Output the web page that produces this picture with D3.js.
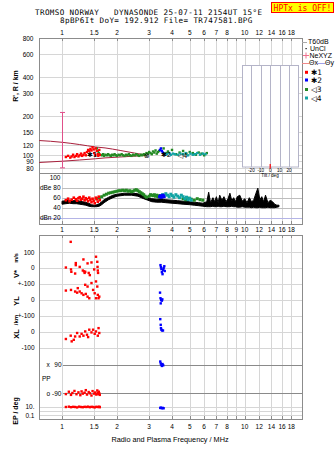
<!DOCTYPE html>
<html><head><meta charset="utf-8">
<script src="https://cdn.jsdelivr.net/npm/d3@7"></script>
<style>body{margin:0;background:#fff}svg{display:block}</style>
</head><body><svg id="c" width="335" height="451"></svg>
<script>
// ---- frequency axis ----
const freqTicks = [1, 1.5, 2, 3, 4, 5, 6, 7, 8, 9, 10, 12, 14, 16, 18];
const freqLabelsOuter = [1, 1.5, 2, 3, 4, 5, 6, 7, 8, 10, 12, 14, 16, 18];
const heightTicks = [800, 600, 400, 300, 200, 150, 120, 100, 90, 80];
const dbTicks = [80, 60, 40];
const tiltTicks = [-20, -10, 0, 10, 20];

// ---- virtual height echoes [MHz, km] ----
const h1 = [[1.05,97],[1.08,99],[1.11,96],[1.13,98],[1.15,101],[1.17,97],[1.19,99],[1.21,102],[1.23,98],[1.25,100],[1.27,103],[1.29,99],[1.31,101],[1.33,104],[1.35,100],[1.37,106],[1.39,110],[1.41,108],[1.43,112],[1.45,109],[1.47,115],[1.49,111],[1.50,104],[1.52,100],[1.53,113],[1.55,108],[1.57,102],[1.58,99],[1.60,110],[1.61,101]];
const h2 = [[3.44,110],[3.48,113],[3.52,108],[3.56,105]];
const h3 = [[1.55,113],[1.57,108],[1.59,104],[1.62,101],[1.65,100],[1.68,102],[1.70,99],[1.73,101],[1.76,100],[1.79,102],[1.82,100],[1.85,99],[1.88,101],[1.91,100],[1.94,102],[1.97,100],[2.00,99],[2.04,101],[2.08,100],[2.12,102],[2.16,100],[2.20,99],[2.24,101],[2.28,100],[2.32,102],[2.36,100],[2.40,99],[2.45,101],[2.50,100],[2.55,102],[2.60,100],[2.65,99],[2.70,101],[2.75,100],[2.80,102],[2.85,101],[2.90,104],[2.95,103],[3.00,106],[3.05,104],[3.10,102],[3.15,107],[3.20,105],[3.25,109],[3.30,103],[3.35,106],[3.40,108],[3.60,113],[3.70,104],[3.80,107],[4.00,110],[4.20,102],[4.40,105],[4.60,108],[4.80,103],[5.00,106],[5.20,104],[5.40,101],[5.60,105],[5.80,103],[6.00,100],[6.20,104]];
const h4 = [[3.65,103],[3.75,102],[3.85,104],[3.95,101],[4.05,103],[4.15,102],[4.30,101],[4.45,103],[4.60,102],[4.75,104],[4.90,100],[5.05,103],[5.20,101],[5.35,102],[5.50,104],[5.70,101],[5.90,103],[6.10,102]];
// model envelope curves
const envUpper = [[0.75,130],[1.0,126],[1.25,121],[1.52,116],[1.72,114],[2.08,109],[2.5,104],[2.85,100.5]];
const envLower = [[0.75,88],[1.0,90],[1.25,92],[1.52,94],[1.72,95.5],[2.08,97],[2.5,98.5],[2.85,100]];
const errBar = {f: 1.0, lo: 80, hi: 214};

// ---- amplitude [MHz, dB] ----
const noiseBand = [[1.00,47,53],[1.05,48,54],[1.10,49,55],[1.15,48,54],[1.20,48,55],[1.25,47,53],[1.30,46,52],[1.35,45,51],[1.40,43,49],[1.45,42,46],[1.50,42,45],[1.55,42,46],[1.60,43,48],[1.65,46,52],[1.70,50,56],[1.80,56,61],[1.90,60,65],[2.00,63,67],[2.10,64,68],[2.20,65,69],[2.40,65,69],[2.60,63,68],[2.80,58,64],[2.95,55,60],[3.10,52,58],[3.30,51,57],[3.50,51,58],[3.70,50,56],[4.00,49,55],[4.30,48,54],[4.60,47,53],[5.00,46,52],[5.30,45,51],[5.60,44,50],[5.90,43,49],[6.20,42,52],[6.35,42,71],[6.50,42,50],[6.70,43,60],[6.85,42,52],[7.00,42,62],[7.15,43,50],[7.30,42,65],[7.50,42,55],[7.70,43,62],[7.90,42,52],[8.10,42,58],[8.30,42,69],[8.50,43,54],[8.70,42,60],[8.90,42,52],[9.10,41,62],[9.40,41,65],[9.70,42,53],[10.0,41,58],[10.3,41,50],[10.6,41,60],[10.9,40,52],[11.2,41,55],[11.5,40,68],[11.8,40,79],[12.1,41,56],[12.4,40,62],[12.7,40,52],[13.0,40,65],[13.4,41,50],[13.8,40,55],[14.2,40,52],[14.6,40,47],[15.0,41,45],[15.4,42,45]];
const a1 = [[1.05,55],[1.08,58],[1.10,53],[1.13,56],[1.16,60],[1.19,57],[1.21,54],[1.23,59],[1.25,61],[1.27,56],[1.29,58],[1.31,62],[1.33,55],[1.35,59],[1.37,57],[1.39,53],[1.41,60],[1.43,56],[1.45,51],[1.47,58],[1.49,54],[1.51,49],[1.53,60],[1.55,57],[1.57,52],[1.59,62],[1.61,55]];
const a2 = [[3.42,62],[3.46,64],[3.50,61],[3.54,63],[3.58,65],[3.62,62]];
const a3 = [[1.55,58],[1.60,60],[1.65,62],[1.70,65],[1.75,67],[1.80,69],[1.85,70],[1.90,71],[1.95,72],[2.00,73],[2.05,74],[2.10,74],[2.15,75],[2.20,74],[2.25,75],[2.30,73],[2.35,74],[2.40,72],[2.45,73],[2.50,75],[2.55,76],[2.60,74],[2.65,72],[2.70,70],[2.75,68],[2.80,66],[2.85,63],[2.90,61],[3.00,63],[3.05,66],[3.10,65],[3.15,64],[3.20,66],[3.25,63],[3.30,65],[3.35,62],[3.40,64],[4.60,58],[4.75,56],[4.90,59],[5.10,57],[5.30,55],[5.50,58],[5.70,56],[5.90,55]];
const a4 = [[3.55,66],[3.62,63],[3.70,68],[3.78,65],[3.86,62],[3.94,67],[4.02,64],[4.10,61],[4.20,66],[4.30,63],[4.40,60],[4.50,65],[4.60,62],[4.70,58],[4.80,61],[4.90,56],[5.00,59],[5.10,55]];

// ---- echo parameters ----
const v1 = [[1.05,4],[1.116,166],[1.12,-8],[1.125,-23],[1.19,19],[1.19,32],[1.25,8],[1.18,-34],[1.31,55],[1.38,30],[1.34,-23],[1.30,-15],[1.32,-20],[1.33,-30],[1.45,36],[1.535,72],[1.56,40],[1.565,8],[1.57,-15],[1.575,-30],[1.50,-8],[1.40,-30],[1.42,-44]];
const v2 = [[3.46,19],[3.48,6],[3.50,-6],[3.52,-25],[3.55,-38],[3.58,-12],[3.60,0],[3.63,12],[3.65,-18]];
const yl1 = [[1.05,59],[1.12,63],[1.18,53],[1.21,46],[1.25,53],[1.28,42],[1.31,32],[1.35,38],[1.38,21],[1.41,11],[1.34,95],[1.38,84],[1.45,106],[1.51,42],[1.535,116],[1.56,84],[1.57,32],[1.585,11],[1.60,21],[1.535,11],[1.48,63],[1.22,74]];
const yl2 = [[3.44,46],[3.46,11],[3.49,0],[3.47,-21],[3.52,-4],[3.54,4]];
const xl1 = [[1.05,-46],[1.116,-25],[1.13,-61],[1.18,-30],[1.21,-8],[1.25,-30],[1.28,-13],[1.34,2],[1.37,-19],[1.41,13],[1.45,-4],[1.48,13],[1.51,-13],[1.535,2],[1.57,-25],[1.585,23],[1.60,-8],[1.16,-51],[1.31,-25],[1.39,-34]];
const xl2 = [[3.45,80],[3.47,44],[3.48,23],[3.50,13],[3.53,8],[3.57,8]];
const pp1 = [[1.05,-95],[1.09,-80],[1.12,-100],[1.14,-88],[1.17,-75],[1.20,-96],[1.23,-84],[1.26,-102],[1.28,-78],[1.30,-92],[1.33,-86],[1.35,-70],[1.37,-98],[1.40,-82],[1.42,-90],[1.45,-104],[1.47,-76],[1.50,-92],[1.52,-85],[1.54,-98],[1.56,-72],[1.57,-88],[1.58,-95],[1.59,-80],[1.60,-90],[1.61,-100]];
const pp2 = [[3.45,112],[3.47,100],[3.50,92],[3.52,84],[3.55,96],[3.58,88]];
const ep1 = [[1.05,10],[1.09,12],[1.12,9],[1.15,11],[1.18,10],[1.21,8],[1.24,12],[1.27,10],[1.30,9],[1.33,11],[1.36,10],[1.39,12],[1.42,9],[1.45,11],[1.48,10],[1.51,8],[1.54,11],[1.57,10],[1.60,12],[1.61,9]];
const ep2 = [[3.45,6],[3.48,7],[3.52,5],[3.56,6],[3.60,5]];

const RED = "#ff0000", BLUE = "#0000ff", GREEN = "#248a24", TEAL = "#12a4a4";
const GRID = "#d6d6d6", FRAME = "#8c8c8c";

const svg = d3.select("#c");
const L = 39, R = 302;
const x = d3.scaleLog().domain([1, 16]).range([62, 282]);
const yH = d3.scaleLog().domain([100, 800]).range([155.3, 38.2]);
const yDb = d3.scaleLinear().domain([20, 100]).range([217.7, 177.7]);
const yV = d3.scaleLinear().domain([-100, 100]).range([284, 252.3]);
const yYL = d3.scaleLinear().domain([-100, 100]).range([316, 284]);
const yXL = d3.scaleLinear().domain([-100, 100]).range([347.5, 316]);
const yPP = d3.scaleLinear().domain([-90, 90]).range([393.3, 365]);
const yEP = d3.scaleLog().domain([0.1, 10]).range([415.3, 407]);
const xT = d3.scaleLinear().domain([-30, 30]).range([242, 298.4]);

const TOP = 38, MID = 173, DBB = 224, BT = 235, BB = 419;
const lab = "Liberation Sans, Arial, sans-serif";

// ---- title block ----
const mono = "DejaVu Sans Mono, monospace";
svg.append("text").attr("x", 35).attr("y", 14.8).attr("font-family", mono).attr("font-size", 7.6)
  .attr("letter-spacing", 0.37).style("white-space", "pre")
  .text("TROMSO NORWAY   DYNASONDE 25-07-11 2154UT 15°E");
svg.append("text").attr("x", 60).attr("y", 22.8).attr("font-family", mono).attr("font-size", 7.6)
  .attr("letter-spacing", 0.37).style("white-space", "pre").text("8pBP6It DoY= 192.912 File= TR747581.BPG");
svg.append("rect").attr("x", 271.5).attr("y", 2.5).attr("width", 62).attr("height", 10)
  .attr("fill", "#ffff00").attr("stroke", "#ff0000").attr("stroke-width", 1);
svg.append("text").attr("x", 302.5).attr("y", 10.5).attr("text-anchor", "middle")
  .attr("font-family", mono).attr("font-size", 8).attr("fill", "#ff0000").text("HPTx is OFF!");

// ---- grid ----
const g = svg.append("g");
freqTicks.forEach(f => {
  const xx = Math.round(x(f)) + 0.5;
  g.append("line").attr("x1", xx).attr("x2", xx).attr("y1", TOP).attr("y2", DBB).attr("stroke", GRID);
  g.append("line").attr("x1", xx).attr("x2", xx).attr("y1", BT).attr("y2", BB).attr("stroke", GRID);
  [[TOP, TOP + 3], [DBB - 3, DBB], [BT, BT + 3], [BB - 3, BB]].forEach(([a, b]) =>
    g.append("line").attr("x1", xx).attr("x2", xx).attr("y1", a).attr("y2", b).attr("stroke", FRAME));
});
heightTicks.forEach(h => {
  const yy = Math.round(yH(h)) + 0.5;
  g.append("line").attr("x1", L).attr("x2", R).attr("y1", yy).attr("y2", yy).attr("stroke", GRID);
  svg.append("text").attr("x", 33.5).attr("y", yy).attr("dy", "0.35em").attr("text-anchor", "end")
    .attr("font-family", lab).attr("font-size", 6.5).text(h);
});
dbTicks.forEach(d => {
  const yy = Math.round(yDb(d)) + 0.5;
  g.append("line").attr("x1", 62).attr("x2", R).attr("y1", yy).attr("y2", yy).attr("stroke", "#bdbdbd");
});
g.append("line").attr("x1", L).attr("x2", R).attr("y1", Math.round(yDb(20)) + 0.5).attr("y2", Math.round(yDb(20)) + 0.5).attr("stroke", "#b4b4e6");
[["100", 100], ["dBe 80", 80], ["60", 60], ["40", 40], ["dBn 20", 20]].forEach(([t, d]) =>
  svg.append("text").attr("x", 60.5).attr("y", yDb(d)).attr("dy", "0.35em").attr("text-anchor", "end")
    .attr("font-family", lab).attr("font-size", 6.5).text(t));

// bottom panel level lines
[[yV, [100, 0]], [yYL, [100, 0, -100]], [yXL, [0, -100]]].forEach(([s, vals]) =>
  vals.forEach(v => {
    const yy = Math.round(s(v)) + 0.5;
    g.append("line").attr("x1", L).attr("x2", R).attr("y1", yy).attr("y2", yy).attr("stroke", GRID);
  }));
[1, 10, 0.1].forEach(v => {
  const yy = Math.round(yEP(v)) + 0.5;
  g.append("line").attr("x1", L).attr("x2", R).attr("y1", yy).attr("y2", yy).attr("stroke", GRID);
});
[90, -90].forEach(v => {
  const yy = Math.round(yPP(v)) + 0.5;
  g.append("line").attr("x1", 63).attr("x2", R).attr("y1", yy).attr("y2", yy).attr("stroke", "#8a8a8a");
});
const leftLabels = [["100", yV(100)], ["0", yV(0)], ["+-100", yYL(100)], ["0", yYL(0)], ["+-100", yXL(100)], ["0", yXL(0)], ["-100", yXL(-100)], ["10.", yEP(10)], ["0.1", yEP(0.1)]];
leftLabels.forEach(([t, yy]) => svg.append("text").attr("x", 34.5).attr("y", yy).attr("dy", "0.35em")
  .attr("text-anchor", "end").attr("font-family", lab).attr("font-size", 6.5).text(t));
svg.append("text").attr("x", 46.5).attr("y", yPP(90)).attr("dy", "0.35em").attr("font-family", lab).attr("font-size", 6.5).text("x");
svg.append("text").attr("x", 61.5).attr("y", yPP(90)).attr("dy", "0.35em").attr("text-anchor", "end").attr("font-family", lab).attr("font-size", 6.5).text("90");
svg.append("text").attr("x", 46.5).attr("y", yPP(-90)).attr("dy", "0.35em").attr("font-family", lab).attr("font-size", 6.5).text("o");
svg.append("text").attr("x", 61.5).attr("y", yPP(-90)).attr("dy", "0.35em").attr("text-anchor", "end").attr("font-family", lab).attr("font-size", 6.5).text("-90");
svg.append("text").attr("x", 42).attr("y", 379).attr("dy", "0.35em").attr("font-family", lab).attr("font-size", 6.5).text("PP");

// frames
g.append("rect").attr("x", L + 0.5).attr("y", TOP + 0.5).attr("width", R - L).attr("height", DBB - TOP).attr("fill", "none").attr("stroke", FRAME);
g.append("line").attr("x1", L).attr("x2", R).attr("y1", MID + 0.5).attr("y2", MID + 0.5).attr("stroke", FRAME);
g.append("rect").attr("x", L + 0.5).attr("y", BT + 0.5).attr("width", R - L).attr("height", BB - BT).attr("fill", "none").attr("stroke", FRAME);

// frequency labels
freqLabelsOuter.forEach(f => svg.append("text").attr("x", x(f)).attr("y", 33).attr("text-anchor", "middle")
  .attr("dy", "0.35em").attr("font-family", lab).attr("font-size", 6.5).text(f));
freqTicks.forEach(f => svg.append("text").attr("x", x(f)).attr("y", 229.5).attr("text-anchor", "middle")
  .attr("dy", "0.35em").attr("font-family", lab).attr("font-size", 6.5).text(f));
freqLabelsOuter.forEach(f => svg.append("text").attr("x", x(f)).attr("y", 427).attr("text-anchor", "middle")
  .attr("dy", "0.35em").attr("font-family", lab).attr("font-size", 6.5).text(f));
svg.append("text").attr("x", 170).attr("y", 439).attr("text-anchor", "middle").attr("dy", "0.35em")
  .attr("font-family", lab).attr("font-size", 7.3).text("Radio and Plasma Frequency / MHz");

// rotated axis titles
function vlabel(t, cx, cy, size) {
  svg.append("text").attr("transform", `translate(${cx},${cy}) rotate(-90)`).attr("text-anchor", "middle")
    .attr("dy", "0.35em").attr("font-family", lab).attr("font-weight", "bold").attr("font-size", size).text(t);
}
vlabel("R', R / km", 16, 86, 7);
vlabel("V*", 16, 274, 7.5);
vlabel("m/s", 16, 258, 5.5);
vlabel("YL", 16, 301, 7.5);
vlabel("/km", 16, 320, 6);
vlabel("XL", 16, 334, 7.5);
vlabel("EP / deg", 16, 411, 7);

// ---- tilt inset ----
const ti = svg.append("g");
ti.append("rect").attr("x", 242.5).attr("y", 65.5).attr("width", 56).attr("height", 101.5).attr("fill", "#fff").attr("stroke", "#b4b4c8");
tiltTicks.forEach(t => {
  const xx = Math.round(xT(t)) + 0.5;
  ti.append("line").attr("x1", xx).attr("x2", xx).attr("y1", 65.5).attr("y2", 167).attr("stroke", "#b4b4c8");
  ti.append("text").attr("x", xT(t)).attr("y", 170.8).attr("dy", "0.35em").attr("text-anchor", "middle")
    .attr("font-family", lab).attr("font-size", 4.6).text(t);
});
ti.append("line").attr("x1", xT(0)).attr("x2", xT(0)).attr("y1", 164).attr("y2", 168.5).attr("stroke", RED).attr("stroke-width", 1.2);
ti.append("text").attr("x", 270).attr("y", 175.3).attr("dy", "0.35em").attr("text-anchor", "middle")
  .attr("font-family", lab).attr("font-size", 4.6).text("Tilt / deg");

// ---- envelopes and error bar ----
const envLine = d3.line().x(d => x(d[0])).y(d => yH(d[1])).curve(d3.curveMonotoneX);
[envUpper, envLower].forEach(d => svg.append("path").attr("d", envLine(d)).attr("fill", "none").attr("stroke", "#a8203c").attr("stroke-width", 1));
const ex = Math.round(x(errBar.f)) + 0.5;
svg.append("line").attr("x1", ex).attr("x2", ex).attr("y1", yH(errBar.hi)).attr("y2", yH(errBar.lo)).attr("stroke", "#e0508a");
[errBar.hi, errBar.lo].forEach(v => svg.append("line").attr("x1", ex - 2.5).attr("x2", ex + 2.5).attr("y1", yH(v)).attr("y2", yH(v)).attr("stroke", "#e0508a"));

// ---- noise band ----
const band = d3.area().x(d => x(d[0])).y0(d => yDb(d[1])).y1(d => yDb(d[2]));
svg.append("path").attr("d", band(noiseBand)).attr("fill", "#000").attr("stroke", "#000").attr("stroke-width", 1);

// ---- echo marks ----
function dots(data, ys, color, s = 2.4) {
  svg.append("g").selectAll("rect").data(data).join("rect")
    .attr("x", d => x(d[0]) - s / 2).attr("y", d => ys(d[1]) - s / 2)
    .attr("width", s).attr("height", s).attr("fill", color);
}
dots(h3, yH, GREEN); dots(h4, yH, TEAL); dots(h1, yH, RED); dots(h2, yH, BLUE);
dots(a3, yDb, GREEN, 3); dots(a4, yDb, TEAL, 3); dots(a1, yDb, RED, 2.6); dots(a2, yDb, BLUE, 3);
dots(v1, yV, RED); dots(v2, yV, BLUE);
dots(yl1, yYL, RED); dots(yl2, yYL, BLUE);
dots(xl1, yXL, RED); dots(xl2, yXL, BLUE);
dots(pp1, yPP, RED); dots(pp2, yPP, BLUE);
dots(ep1, yEP, RED); dots(ep2, yEP, BLUE);

// trace labels on the height panel
const tl = [["✱1", 1.37, 101], ["⊗", 2.8, 99], ["✱2", 3.48, 100.5], ["◁4", 4.3, 99]];
tl.forEach(([t, f, h]) => svg.append("text").attr("x", x(f)).attr("y", yH(h)).attr("dy", "0.35em")
  .attr("font-family", "DejaVu Sans, sans-serif").attr("font-size", 7).text(t));

// ---- legend ----
const lg = svg.append("g").attr("font-family", lab).attr("font-size", 7);
lg.append("line").attr("x1", 302).attr("x2", 307).attr("y1", 42.5).attr("y2", 42.5).attr("stroke", "#aaa");
lg.append("text").attr("x", 308).attr("y", 42).attr("dy", "0.35em").text("T60dB");
lg.append("rect").attr("x", 305.5).attr("y", 48).attr("width", 1.2).attr("height", 1.2).attr("fill", "#000");
lg.append("text").attr("x", 310).attr("y", 49).attr("dy", "0.35em").text("UnCl");
lg.append("path").attr("d", "M303,55.5h6M306,52.5v6").attr("stroke", "#f07090");
lg.append("text").attr("x", 309.5).attr("y", 55.5).attr("dy", "0.35em").text("NeXYZ");
lg.append("line").attr("x1", 302).attr("x2", 309).attr("y1", 63.5).attr("y2", 63.5).attr("stroke", "#f08a8a");
lg.append("text").attr("x", 309).attr("y", 63).attr("dy", "0.35em").text("Θx");
lg.append("line").attr("x1", 317).attr("x2", 325).attr("y1", 63.5).attr("y2", 63.5).attr("stroke", "#a0a0e8");
lg.append("text").attr("x", 325).attr("y", 63).attr("dy", "0.35em").text("Θy");
[["✱1", RED, 72.3], ["✱2", BLUE, 80], ["◁3", GREEN, 89.5], ["◁4", TEAL, 98]].forEach(([t, c, yy]) => {
  lg.append("rect").attr("x", 305).attr("y", yy - 1.5).attr("width", 3).attr("height", 3).attr("fill", c);
  lg.append("text").attr("x", 311).attr("y", yy).attr("dy", "0.35em").attr("font-family", "DejaVu Sans, sans-serif").attr("font-size", 7.5).text(t);
});
</script></body></html>
